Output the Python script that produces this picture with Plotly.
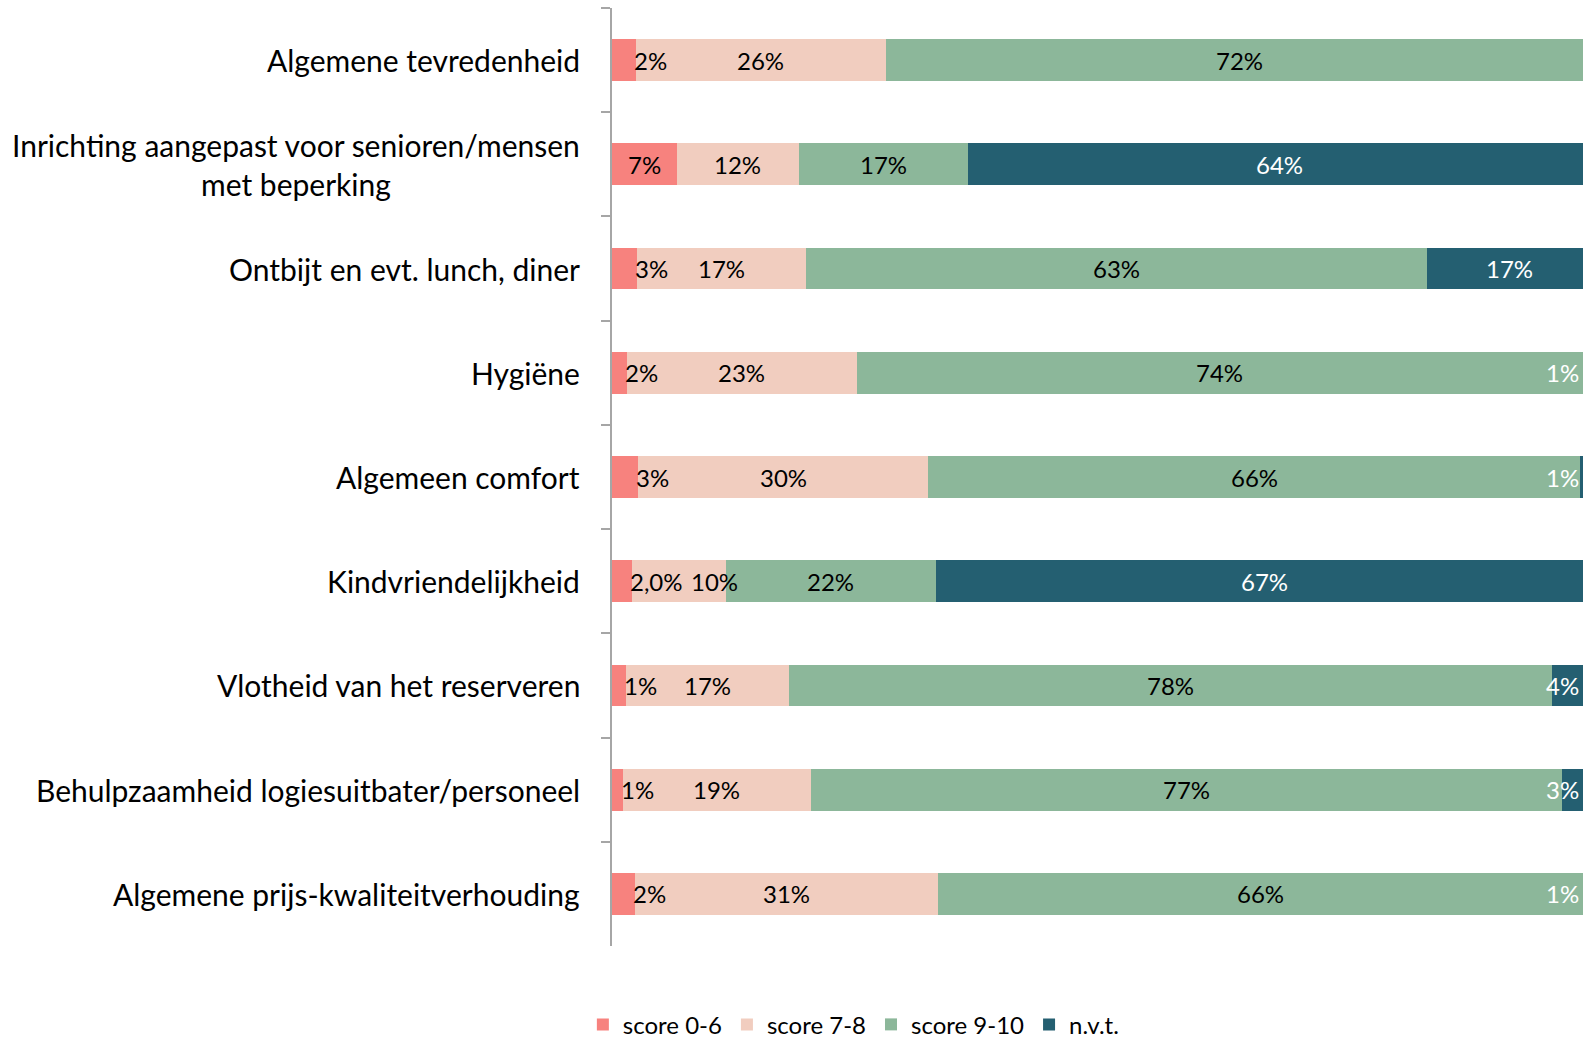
import plotly.graph_objects as go

categories = [
    "Algemene tevredenheid",
    "Inrichting aangepast voor senioren/mensen<br>met beperking",
    "Ontbijt en evt. lunch, diner",
    "Hygiëne",
    "Algemeen comfort",
    "Kindvriendelijkheid",
    "Vlotheid van het reserveren",
    "Behulpzaamheid logiesuitbater/personeel",
    "Algemene prijs-kwaliteitverhouding",
]

series_names = ["score 0-6", "score 7-8", "score 9-10", "n.v.t."]

score_0_6 = [2.4, 6.6, 2.6, 1.5, 2.7, 2.0, 1.4, 1.1, 2.3]
score_7_8 = [25.6, 12.5, 17.2, 23.5, 29.6, 9.6, 16.7, 19.2, 31.0]
score_9_10 = [72.0, 17.2, 63.4, 74.1, 66.5, 21.5, 77.8, 76.7, 65.8]
nvt = [0.0, 63.7, 16.8, 0.9, 1.2, 66.9, 4.1, 3.0, 0.9]

labels_0_6 = ["2%", "7%", "3%", "2%", "3%", "2,0%", "1%", "1%", "2%"]
labels_7_8 = ["26%", "12%", "17%", "23%", "30%", "10%", "17%", "19%", "31%"]
labels_9_10 = ["72%", "17%", "63%", "74%", "66%", "22%", "78%", "77%", "66%"]
labels_nvt = ["", "64%", "17%", "1%", "1%", "67%", "4%", "3%", "1%"]

colors = ["#F7827E", "#F1CDBF", "#8CB79A", "#245F71"]
label_colors = ["#000000", "#000000", "#000000", "#FFFFFF"]

FONT = "Lato"
LABEL_SIZE = 24
X_MAX = 99.1
PLOT_LEFT, PLOT_RIGHT = 612, 1583
PX_PER_UNIT = (PLOT_RIGHT - PLOT_LEFT) / X_MAX

all_values = [score_0_6, score_7_8, score_9_10, nvt]
all_labels = [labels_0_6, labels_7_8, labels_9_10, labels_nvt]


def text_w(t):
    return len(t) * 0.6 * LABEL_SIZE


fig = go.Figure()
for name, vals, col in zip(series_names, all_values, colors):
    fig.add_trace(go.Bar(
        y=categories, x=vals, name=name, orientation="h",
        marker=dict(color=col, line=dict(width=0)),
        hoverinfo="x+y+name",
    ))

annotations = []
for i, cat in enumerate(categories):
    start = 0.0
    prev_right = -1e9
    for s in range(4):
        v = all_values[s][i]
        txt = all_labels[s][i]
        end = start + v
        if txt:
            w = text_w(txt)
            if s == 0 and v < 5:
                x, anchor, shift = end, "left", -4
                left = end * PX_PER_UNIT + shift
            elif s == 3 and v < 5:
                x, anchor, shift = X_MAX, "right", -2
                left = X_MAX * PX_PER_UNIT + shift - w
            else:
                x, anchor, shift = (start + end) / 2, "center", 0
                left = x * PX_PER_UNIT - w / 2
            if s < 3 and left < prev_right + 8:
                shift += prev_right + 8 - left
                left = prev_right + 8
            prev_right = left + w
            annotations.append(dict(
                x=x, xanchor=anchor, xshift=shift,
                y=cat, xref="x", yref="y", text=txt, showarrow=False,
                yanchor="middle",
                font=dict(family=FONT, size=LABEL_SIZE, color=label_colors[s])))
        start = end
    annotations.append(dict(
        x=0, xref="paper", y=cat, yref="y", text=cat, showarrow=False,
        xanchor="right", yanchor="middle", align="center", xshift=-30,
        font=dict(family=FONT, size=30, color="#000000"),
    ))

fig.update_layout(
    width=1583, height=1039,
    barmode="stack", bargap=0.6,
    plot_bgcolor="white", paper_bgcolor="white",
    margin=dict(l=PLOT_LEFT, r=0, t=8, b=93, autoexpand=False),
    font=dict(family=FONT, size=24, color="#000000"),
    xaxis=dict(range=[0, X_MAX], visible=False, fixedrange=True),
    yaxis=dict(
        type="category", autorange="reversed", showticklabels=False,
        ticks="outside", tickson="boundaries", ticklen=9, tickwidth=1.5,
        tickcolor="#A6A6A6", showline=True, linecolor="#A6A6A6", linewidth=1.5,
        showgrid=False, zeroline=False, fixedrange=True,
    ),
    legend=dict(
        orientation="h", x=-0.03, xanchor="left", y=-0.084, yanchor="middle",
        font=dict(family=FONT, size=24), traceorder="normal",
        itemsizing="constant",
    ),
    annotations=annotations,
    showlegend=True,
)

fig.write_html(
    "out.html",
    config={"displayModeBar": False},
    post_script="document.body.style.margin='0';document.body.style.overflow='hidden';",
)
